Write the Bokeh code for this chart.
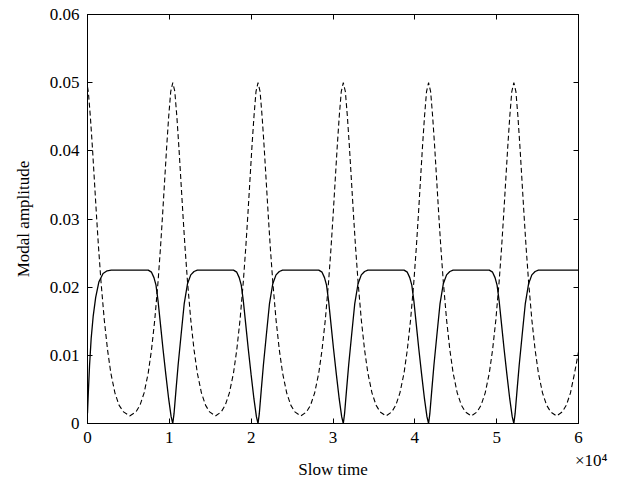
from bokeh.plotting import figure
from bokeh.models import LinearAxis, Range1d, FixedTicker
from bokeh.embed import file_html
from bokeh.resources import INLINE

# ---- data (slow time, modal amplitudes) ----
dashed_x = [0, 100, 350, 600, 850, 1100, 1350, 1650, 2050, 2450, 2850, 3350, 3850, 4400, 5150,
            5920, 6420, 6920, 7420, 7820, 8220, 8620, 8920, 9170, 9420, 9670, 9920, 10170,
            10420, 10670, 10920, 11170, 11420, 11670, 11920, 12220, 12620, 13020, 13420, 13920, 14420, 14920, 15630,
            16340, 16840, 17340, 17840, 18240, 18640, 19040, 19340, 19590, 19840, 20090, 20340, 20590,
            20840, 21090, 21340, 21590, 21840, 22090, 22340, 22640, 23040, 23440, 23840, 24340, 24840, 25340, 26050,
            26760, 27260, 27760, 28260, 28660, 29060, 29460, 29760, 30010, 30260, 30510, 30760, 31010,
            31260, 31510, 31760, 32010, 32260, 32510, 32760, 33060, 33460, 33860, 34260, 34760, 35260, 35760, 36470,
            37180, 37680, 38180, 38680, 39080, 39480, 39880, 40180, 40430, 40680, 40930, 41180, 41430,
            41680, 41930, 42180, 42430, 42680, 42930, 43180, 43480, 43880, 44280, 44680, 45180, 45680, 46180, 46890,
            47600, 48100, 48600, 49100, 49500, 49900, 50300, 50600, 50850, 51100, 51350, 51600, 51850,
            52100, 52350, 52600, 52850, 53100, 53350, 53600, 53900, 54300, 54700, 55100, 55600, 56100, 56600, 57310,
            58020, 58520, 59020, 59520, 60000]
dashed_y = [0.0494, 0.0487, 0.0450, 0.0405, 0.0355, 0.0305, 0.0258, 0.0208, 0.0152, 0.0108, 0.0074, 0.0045, 0.0027, 0.0017, 0.0011,
            0.0017, 0.0027, 0.0045, 0.0074, 0.0108, 0.0152, 0.0208, 0.0258, 0.0305, 0.0355, 0.0405, 0.0450, 0.0487,
            0.0500, 0.0487, 0.0450, 0.0405, 0.0355, 0.0305, 0.0258, 0.0208, 0.0152, 0.0108, 0.0074, 0.0045, 0.0027, 0.0017, 0.0011,
            0.0017, 0.0027, 0.0045, 0.0074, 0.0108, 0.0152, 0.0208, 0.0258, 0.0305, 0.0355, 0.0405, 0.0450, 0.0487,
            0.0500, 0.0487, 0.0450, 0.0405, 0.0355, 0.0305, 0.0258, 0.0208, 0.0152, 0.0108, 0.0074, 0.0045, 0.0027, 0.0017, 0.0011,
            0.0017, 0.0027, 0.0045, 0.0074, 0.0108, 0.0152, 0.0208, 0.0258, 0.0305, 0.0355, 0.0405, 0.0450, 0.0487,
            0.0500, 0.0487, 0.0450, 0.0405, 0.0355, 0.0305, 0.0258, 0.0208, 0.0152, 0.0108, 0.0074, 0.0045, 0.0027, 0.0017, 0.0011,
            0.0017, 0.0027, 0.0045, 0.0074, 0.0108, 0.0152, 0.0208, 0.0258, 0.0305, 0.0355, 0.0405, 0.0450, 0.0487,
            0.0500, 0.0487, 0.0450, 0.0405, 0.0355, 0.0305, 0.0258, 0.0208, 0.0152, 0.0108, 0.0074, 0.0045, 0.0027, 0.0017, 0.0011,
            0.0017, 0.0027, 0.0045, 0.0074, 0.0108, 0.0152, 0.0208, 0.0258, 0.0305, 0.0355, 0.0405, 0.0450, 0.0487,
            0.0500, 0.0487, 0.0450, 0.0405, 0.0355, 0.0305, 0.0258, 0.0208, 0.0152, 0.0108, 0.0074, 0.0045, 0.0027, 0.0017, 0.0011,
            0.0017, 0.0027, 0.0045, 0.0074, 0.0105]

solid_x = [0, 100, 250, 450, 700, 1000, 1400, 1900, 2400, 2900,
           7420, 7820, 8120, 8370, 8620, 8920, 9220, 9570, 9920, 10220, 10420, 10570, 10820, 11070, 11420, 11820, 12220, 12620, 13020, 13420,
           17840, 18240, 18540, 18790, 19040, 19340, 19640, 19990, 20340, 20640, 20840, 20990, 21240, 21490, 21840, 22240, 22640, 23040, 23440, 23840,
           28260, 28660, 28960, 29210, 29460, 29760, 30060, 30410, 30760, 31060, 31260, 31410, 31660, 31910, 32260, 32660, 33060, 33460, 33860, 34260,
           38680, 39080, 39380, 39630, 39880, 40180, 40480, 40830, 41180, 41480, 41680, 41830, 42080, 42330, 42680, 43080, 43480, 43880, 44280, 44680,
           49100, 49500, 49800, 50050, 50300, 50600, 50900, 51250, 51600, 51900, 52100, 52250, 52500, 52750, 53100, 53500, 53900, 54300, 54700, 55100,
           60000]
solid_y = [0.0015, 0.0045, 0.0085, 0.0125, 0.0158, 0.0185, 0.0208, 0.0220, 0.0224, 0.0225,
           0.0225, 0.0222, 0.0214, 0.0203, 0.0180, 0.0145, 0.0110, 0.0072, 0.0036, 0.0010, 0.0000, 0.0014, 0.0050, 0.0085, 0.0128, 0.0176, 0.0205, 0.0218, 0.0223, 0.0225,
           0.0225, 0.0222, 0.0214, 0.0203, 0.0180, 0.0145, 0.0110, 0.0072, 0.0036, 0.0010, 0.0000, 0.0014, 0.0050, 0.0085, 0.0128, 0.0176, 0.0205, 0.0218, 0.0223, 0.0225,
           0.0225, 0.0222, 0.0214, 0.0203, 0.0180, 0.0145, 0.0110, 0.0072, 0.0036, 0.0010, 0.0000, 0.0014, 0.0050, 0.0085, 0.0128, 0.0176, 0.0205, 0.0218, 0.0223, 0.0225,
           0.0225, 0.0222, 0.0214, 0.0203, 0.0180, 0.0145, 0.0110, 0.0072, 0.0036, 0.0010, 0.0000, 0.0014, 0.0050, 0.0085, 0.0128, 0.0176, 0.0205, 0.0218, 0.0223, 0.0225,
           0.0225, 0.0222, 0.0214, 0.0203, 0.0180, 0.0145, 0.0110, 0.0072, 0.0036, 0.0010, 0.0000, 0.0014, 0.0050, 0.0085, 0.0128, 0.0176, 0.0205, 0.0218, 0.0223, 0.0225,
           0.0225]

x_ticks = [0, 10000, 20000, 30000, 40000, 50000, 60000]
x_tick_labels = ["0", "1", "2", "3", "4", "5", "6"]
y_ticks = [0, 0.01, 0.02, 0.03, 0.04, 0.05, 0.06]
y_tick_labels = ["0", "0.01", "0.02", "0.03", "0.04", "0.05", "0.06"]
x_title = "Slow time"
y_title = "Modal amplitude"
x_multiplier = "\u00a0\u00a0\u00a0\u00a0\u00a0\u00a0×10⁴"

FONT = "Liberation Serif"
FS = "17px"

p = figure(width=628, height=483, frame_width=491, frame_height=409,
           min_border_left=87, min_border_right=50, min_border_top=14, min_border_bottom=60,
           output_backend="svg", toolbar_location=None,
           x_range=Range1d(0, 60000), y_range=Range1d(0, 0.06),
           y_axis_label=y_title)
p.background_fill_color = "white"
p.border_fill_color = "white"
p.grid.visible = False
p.outline_line_color = "black"
p.outline_line_width = 1

p.line(solid_x, solid_y, line_color="black", line_width=1.3)
p.line(dashed_x, dashed_y, line_color="black", line_width=1.1, line_dash="5 3")


def style_axis(ax, ticks, labels):
    ax.ticker = FixedTicker(ticks=ticks)
    ax.major_label_overrides = {t: l for t, l in zip(ticks, labels)}
    ax.major_tick_in = 5
    ax.major_tick_out = 0
    ax.minor_tick_in = 0
    ax.minor_tick_out = 0
    ax.axis_line_color = "black"
    ax.major_tick_line_color = "black"
    ax.major_label_text_font = FONT
    ax.major_label_text_font_size = FS
    ax.major_label_text_color = "black"
    ax.major_label_standoff = 8
    ax.axis_label_text_font = FONT
    ax.axis_label_text_font_size = FS
    ax.axis_label_text_font_style = "normal"
    ax.axis_label_text_color = "black"


style_axis(p.xaxis[0], x_ticks, x_tick_labels)
style_axis(p.yaxis[0], y_ticks, y_tick_labels)
p.yaxis[0].axis_label_standoff = 14

# second row below the x axis: the x10^4 multiplier and the axis title
sub = LinearAxis(axis_label=x_title)
style_axis(sub, [60000], [x_multiplier])
sub.major_tick_in = 0
sub.axis_line_color = None
sub.major_label_standoff = 5
sub.axis_label_standoff = -13
p.add_layout(sub, "below")

top = LinearAxis()
style_axis(top, x_ticks, ["" for _ in x_ticks])
top.major_label_standoff = 0
p.add_layout(top, "above")
right = LinearAxis()
style_axis(right, y_ticks, ["" for _ in y_ticks])
right.major_label_standoff = 0
p.add_layout(right, "right")

open("out.html", "w").write(file_html(p, INLINE))
